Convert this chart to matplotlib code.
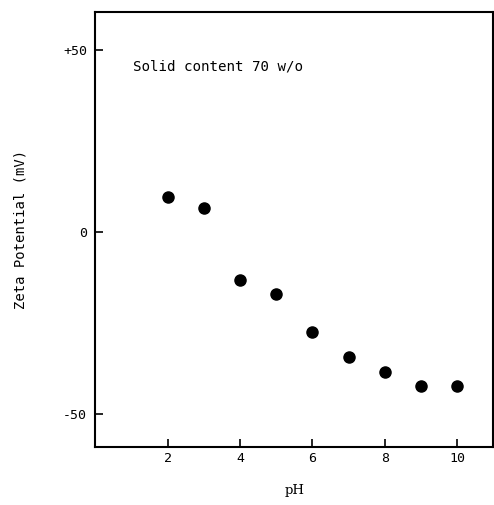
import matplotlib
matplotlib.use("Agg")
import matplotlib.pyplot as plt

# Zeta potential vs pH, solid content 70 w/o
ph = [2, 3, 4, 5, 6, 7, 8, 9, 10]
zeta = [9.6, 6.8, -13.2, -17.0, -27.5, -34.3, -38.5, -42.3, -42.3]

x_ticks = [2, 4, 6, 8, 10]
y_ticks = [-50, 0, 50]
y_tick_labels = ['-50', '0', '+50']

plt.rcParams['font.family'] = ['DejaVu Sans Mono']

fig = plt.figure(figsize=(4.94, 5.05), dpi=100)
ax = fig.add_axes([0.1933, 0.115, 0.805, 0.861])

ax.plot(ph, zeta, 'o', color='black', markersize=8)

ax.set_xlim(0, 11)
ax.set_ylim(-59, 60.5)
ax.set_xticks(x_ticks)
ax.set_yticks(y_ticks)
ax.set_yticklabels(y_tick_labels)
ax.tick_params(direction='in', length=6, width=1.2, labelsize=9.5)
ax.tick_params(axis='y', pad=6)
ax.tick_params(axis='x', pad=4)

for s in ax.spines.values():
    s.set_linewidth(1.5)

ax.text(1.03, 45.6, 'Solid content 70 w/o', fontsize=10.2, va='center')

ax.set_xlabel('pH', fontsize=9.5, family='DejaVu Serif', labelpad=13)
ax.set_ylabel('Zeta Potential (mV)', fontsize=10, labelpad=26)

fig.savefig('out.png', dpi=100)
